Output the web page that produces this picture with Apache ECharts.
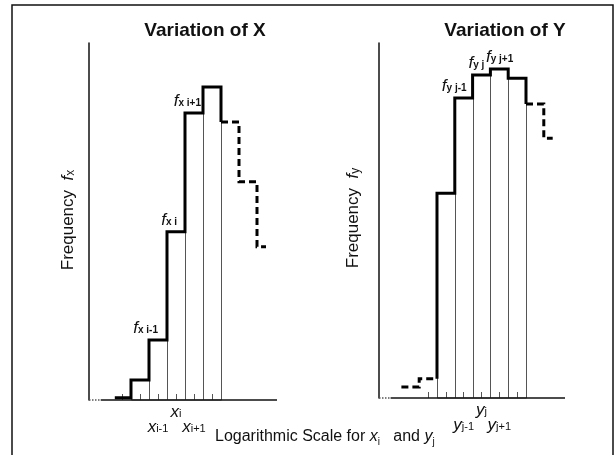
<!DOCTYPE html>
<html><head><meta charset="utf-8">
<script src="https://cdn.jsdelivr.net/npm/echarts@6/dist/echarts.min.js"></script>
<style>html,body{margin:0;padding:0;background:#fff}#c{width:616px;height:455px}</style>
</head><body><div id="c"></div>
<script>
// ---------- DATA (bin units on a logarithmic scale; frequency in % of axis height) ----------
// Variation of X
const xBinEdges = [-0.9, 0, 1, 2, 3, 4, 5, 6, 7, 7.5];
const xFreq = [0.6, 5.6, 16.8, 47.1, 80.4, 87.7, 77.9, 61.1, 42.9];
const xSolidBins = [0, 5];        // first / last bin drawn with a solid line
const xDashedBins = [6, 8];       // bins drawn dashed
const xOutlinedBins = [1, 2, 3, 4, 5];
const xTickCenters = [-0.5, 0.5, 1.5, 2.5, 3.5, 4.5];
const xTickLabelValues = [1.5, 2.5, 3.5];
const xTickLabelSubs = ['i-1', 'i', 'i+1'];
const xFreqLabelBins = [2, 3, 4];
const xFreqLabelSubs = ['x i-1', 'x i', 'x i+1'];

// Variation of Y
const yBinEdges = [-2, -1, 0, 1, 2, 3, 4, 5, 6, 6.5];
const yFreq = [3.1, 5.4, 57.7, 84.5, 91.0, 92.7, 90.1, 82.8, 73.2];
const yDashedLeadBins = [0, 1];
const ySolidBins = [2, 6];
const yDashedBins = [7, 8];
const yOutlinedBins = [2, 3, 4, 5, 6];
const yTickCenters = [-0.5, 0.5, 1.5, 2.5, 3.5, 4.5];
const yTickLabelValues = [1.5, 2.5, 3.5];
const yTickLabelSubs = ['j-1', 'j', 'j+1'];
const yFreqLabelBins = [3, 4, 5];
const yFreqLabelSubs = ['y j-1', 'y j', 'y j+1'];

const titles = ['Variation of X', 'Variation of Y'];
const yNames = ['x', 'y'];

// ---------- STYLE ----------
const FF = '"Liberation Sans", Arial, sans-serif';
const xFreqLabelDx = [-9, -8, -2];   // label right edge relative to bin right edge (px)
const yFreqLabelDx = [-6, -6, 5];

function stepPoints(edges, freqs, b0, b1, leadFrom, tailTo) {
  const pts = [];
  if (leadFrom != null) pts.push([edges[b0], leadFrom]);
  for (let b = b0; b <= b1; b++) { pts.push([edges[b], freqs[b]]); pts.push([edges[b + 1], freqs[b]]); }
  if (tailTo != null) pts.push([edges[b1 + 1], tailTo]);
  return pts;
}
function barData(edges, freqs, bins) { return bins.map(b => [edges[b], edges[b + 1], freqs[b]]); }

const lineBase = { type: 'line', symbol: 'none', silent: true, clip: false, animation: false, z: 5 };
function stepSeries(i, pts, dashed) {
  return Object.assign({}, lineBase, {
    xAxisIndex: i, yAxisIndex: i, data: pts,
    lineStyle: { color: '#000', width: 3, type: dashed ? [7, 4] : 'solid', cap: 'butt', join: 'miter' }
  });
}
function barSeries(i, data) {
  return {
    type: 'custom', xAxisIndex: i, yAxisIndex: i, silent: true, animation: false, z: 2,
    encode: { x: [0, 1], y: 2 }, data: data,
    renderItem: function (params, api) {
      const p0 = api.coord([api.value(0), api.value(2)]);
      const p1 = api.coord([api.value(1), 0]);
      return { type: 'rect', shape: { x: Math.round(p0[0]) + 0.5, y: p0[1], width: Math.round(p1[0]) - Math.round(p0[0]), height: p1[1] - p0[1] },
        style: { fill: 'none', stroke: '#555', lineWidth: 1 } };
    }
  };
}
function baselineSeries(i, min, max) {
  const dot = 0.65;
  return [
    Object.assign({}, lineBase, { xAxisIndex: i, yAxisIndex: i, z: 3, data: [[min, 0], [min + dot, 0]],
      lineStyle: { color: '#555', width: 1.5, type: [1.5, 1.5] } }),
    Object.assign({}, lineBase, { xAxisIndex: i, yAxisIndex: i, z: 3, data: [[min + dot, 0], [max, 0]],
      lineStyle: { color: '#111', width: 1.5 } })
  ];
}

const xMinL = -2.333, xMaxL = 8.111, xMinR = -3.258, xMaxR = 7.191;

function xAxisCfg(i, min, max, ticks) {
  return { type: 'value', gridIndex: i, min: min, max: max, splitLine: { show: false },
    axisLine: { show: false, onZero: false }, axisLabel: { show: false },
    axisTick: { show: true, inside: true, length: 6, customValues: ticks, lineStyle: { color: '#555', width: 1 } } };
}
function yAxisCfg(i) {
  return { type: 'value', gridIndex: i, min: 0, max: 100, splitLine: { show: false },
    axisLabel: { show: false }, axisTick: { show: false },
    axisLine: { show: true, onZero: false, lineStyle: { color: '#111', width: 1.5 } } };
}

const chart = echarts.init(document.getElementById('c'), null, { renderer: 'canvas' });
chart.setOption({
  backgroundColor: '#fff',
  animation: false,
  grid: [
    { left: 89, top: 43, width: 188, height: 357 },
    { left: 379, top: 43, width: 186, height: 355 }
  ],
  xAxis: [xAxisCfg(0, xMinL, xMaxL, xTickCenters), xAxisCfg(1, xMinR, xMaxR, yTickCenters)],
  yAxis: [yAxisCfg(0), yAxisCfg(1)],
  series: [
    barSeries(0, barData(xBinEdges, xFreq, xOutlinedBins)),
    barSeries(1, barData(yBinEdges, yFreq, yOutlinedBins)),
    ...baselineSeries(0, xMinL, xMaxL),
    ...baselineSeries(1, xMinR, xMaxR),
    stepSeries(0, stepPoints(xBinEdges, xFreq, xSolidBins[0], xSolidBins[1], null, xFreq[xSolidBins[1] + 1]), false),
    stepSeries(0, stepPoints(xBinEdges, xFreq, xDashedBins[0], xDashedBins[1], null, null), true),
    stepSeries(1, stepPoints(yBinEdges, yFreq, yDashedLeadBins[0], yDashedLeadBins[1], null, null), true),
    stepSeries(1, stepPoints(yBinEdges, yFreq, ySolidBins[0], ySolidBins[1], yFreq[ySolidBins[0] - 1], yFreq[ySolidBins[1] + 1]), false),
    stepSeries(1, stepPoints(yBinEdges, yFreq, yDashedBins[0], yDashedBins[1], null, null), true)
  ]
});

// ---------- TEXT ----------
const mctx = document.createElement('canvas').getContext('2d');
function tw(font, t) { mctx.font = font; return mctx.measureText(t).width; }
// parts: [{t, font, dy}] laid out horizontally; anchor 'left' | 'right' | 'center'
function textRun(parts, x, y, anchor) {
  const widths = parts.map(p => tw(p.font, p.t));
  const total = widths.reduce((a, b) => a + b, 0);
  let cx = anchor === 'right' ? x - total : anchor === 'center' ? x - total / 2 : x;
  return parts.map((p, k) => {
    const el = { type: 'text', x: cx, y: y + (p.dy || 0), silent: true,
      style: { text: p.t, font: p.font, fill: '#111', align: 'left', verticalAlign: 'middle' } };
    cx += widths[k];
    return el;
  });
}

const g = [];
// frame
g.push({ type: 'rect', shape: { x: 12, y: 5, width: 601, height: 470 }, silent: true,
  style: { fill: 'none', stroke: '#111', lineWidth: 1.5 } });
// titles
const titleX = [205, 505];
titles.forEach((t, i) => g.push({ type: 'text', x: titleX[i], y: 31, silent: true,
  style: { text: t, font: 'bold 19px ' + FF, fill: '#111', align: 'center', verticalAlign: 'middle' } }));
// y-axis names (rotated)
const yNameX = [68, 353], yNameY = [220, 218];
yNames.forEach((n, i) => g.push({ type: 'group', x: yNameX[i], y: yNameY[i], rotation: Math.PI / 2,
  children: textRun([
    { t: 'Frequency  ', font: '17px ' + FF },
    { t: 'f', font: 'italic 17px ' + FF },
    { t: n, font: '12px ' + FF, dy: 3 }
  ], 0, 0, 'center') }));

// tick labels under axes
function tickLabels(gi, vals, subs, letter) {
  vals.forEach((v, k) => {
    const p = chart.convertToPixel({ gridIndex: gi }, [v, 0]);
    const row = k === 1 ? 12 : 27;
    textRun([
      { t: letter, font: 'italic 17px ' + FF },
      { t: subs[k], font: '11px ' + FF, dy: 2 }
    ], p[0], p[1] + row, 'center').forEach(e => g.push(e));
  });
}
tickLabels(0, xTickLabelValues, xTickLabelSubs, 'x');
tickLabels(1, yTickLabelValues, yTickLabelSubs, 'y');

// frequency labels
function freqLabels(gi, edges, freqs, bins, subs, dx) {
  bins.forEach((b, k) => {
    const p = chart.convertToPixel({ gridIndex: gi }, [edges[b + 1], freqs[b]]);
    textRun([
      { t: 'f', font: 'italic 17px ' + FF },
      { t: subs[k], font: 'bold 10px ' + FF, dy: 2 }
    ], p[0] + dx[k], p[1] - 12, 'right').forEach(e => g.push(e));
  });
}
freqLabels(0, xBinEdges, xFreq, xFreqLabelBins, xFreqLabelSubs, xFreqLabelDx);
freqLabels(1, yBinEdges, yFreq, yFreqLabelBins, yFreqLabelSubs, yFreqLabelDx);

// bottom axis caption
textRun([
  { t: 'Logarithmic Scale for ', font: '16px ' + FF },
  { t: 'x', font: 'italic 16px ' + FF },
  { t: 'i', font: '10px ' + FF, dy: 5 },
  { t: '   and ', font: '16px ' + FF },
  { t: 'y', font: 'italic 16px ' + FF },
  { t: 'j', font: '10px ' + FF, dy: 5 }
], 215, 437, 'left').forEach(e => g.push(e));

chart.setOption({ graphic: { elements: g } });
</script>
</body></html>
